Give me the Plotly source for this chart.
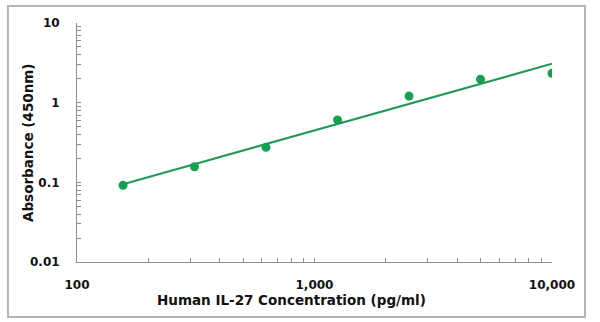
import numpy as np
import plotly.graph_objects as go

# Standard curve: IL-27 concentration (pg/ml) vs absorbance at 450 nm
concentration = [156.25, 312.5, 625, 1250, 2500, 5000, 10000]
absorbance = [0.092, 0.157, 0.275, 0.607, 1.21, 1.97, 2.34]

x_tick_vals = [100, 1000, 10000]
x_tick_text = ["100", "1,000", "10,000"]
y_tick_vals = [0.01, 0.1, 1, 10]
y_tick_text = ["0.01", "0.1", "1", "10"]

# Power-law trend line (least squares in log-log space)
slope, intercept = np.polyfit(np.log10(concentration), np.log10(absorbance), 1)
fit_x = [min(concentration), max(concentration)]
fit_y = [10 ** (intercept + slope * np.log10(v)) for v in fit_x]

POINT_COLOR = "#15a052"
LINE_COLOR = "#239857"
AXIS_COLOR = "#8c8c8c"
FONT = "DejaVu Sans"

fig = go.Figure()
fig.add_trace(go.Scatter(
    x=fit_x, y=fit_y, mode="lines",
    line=dict(color=LINE_COLOR, width=2.2),
    hoverinfo="skip", showlegend=False,
))
fig.add_trace(go.Scatter(
    x=concentration, y=absorbance, mode="markers",
    marker=dict(color=POINT_COLOR, size=9),
    showlegend=False,
))

x_minor = [m * 10 ** d for d in (2, 3) for m in range(2, 10)]
y_minor = [m * 10.0 ** d for d in (-2, -1, 0) for m in range(2, 10)]

tickfont = dict(family=FONT, size=12, color="#111111", weight="bold")

fig.update_xaxes(
    type="log", range=[2, 4],
    tickvals=x_tick_vals, ticktext=x_tick_text,
    ticks="inside", ticklen=4, tickcolor=AXIS_COLOR, tickwidth=1,
    minor=dict(tickvals=x_minor, ticks="inside", ticklen=4,
               tickcolor=AXIS_COLOR, tickwidth=1, showgrid=False),
    showline=True, linecolor=AXIS_COLOR, linewidth=1,
    showgrid=False, zeroline=False, tickfont=tickfont,
    ticklabelstandoff=12,
)
fig.update_yaxes(
    type="log", range=[-2, 1],
    tickvals=y_tick_vals, ticktext=y_tick_text,
    ticks="inside", ticklen=4, tickcolor=AXIS_COLOR, tickwidth=1,
    minor=dict(tickvals=y_minor, ticks="inside", ticklen=4,
               tickcolor=AXIS_COLOR, tickwidth=1, showgrid=False),
    showline=True, linecolor=AXIS_COLOR, linewidth=1,
    showgrid=False, zeroline=False, tickfont=tickfont,
    ticklabelstandoff=14,
)

title_font = dict(family=FONT, size=13.5, color="#111111", weight="bold")

fig.update_layout(
    width=600, height=322,
    margin=dict(l=77, r=48, t=23, b=60),
    paper_bgcolor="white", plot_bgcolor="white",
    shapes=[dict(
        type="rect", xref="paper", yref="paper",
        x0=-0.1453, x1=1.0695, y0=-0.230, y1=1.071,
        line=dict(color="#b4b4b4", width=2), layer="below",
    )],
    annotations=[
        dict(text="Human IL-27 Concentration (pg/ml)", xref="paper", yref="paper",
             x=0.4526, y=-0.159, xanchor="center", yanchor="middle",
             showarrow=False, font=title_font),
        dict(text="Absorbance (450nm)", xref="paper", yref="paper",
             x=-0.1032, y=0.502, xanchor="center", yanchor="middle",
             textangle=-90, showarrow=False, font=title_font),
    ],
)

fig.write_html("out.html")
